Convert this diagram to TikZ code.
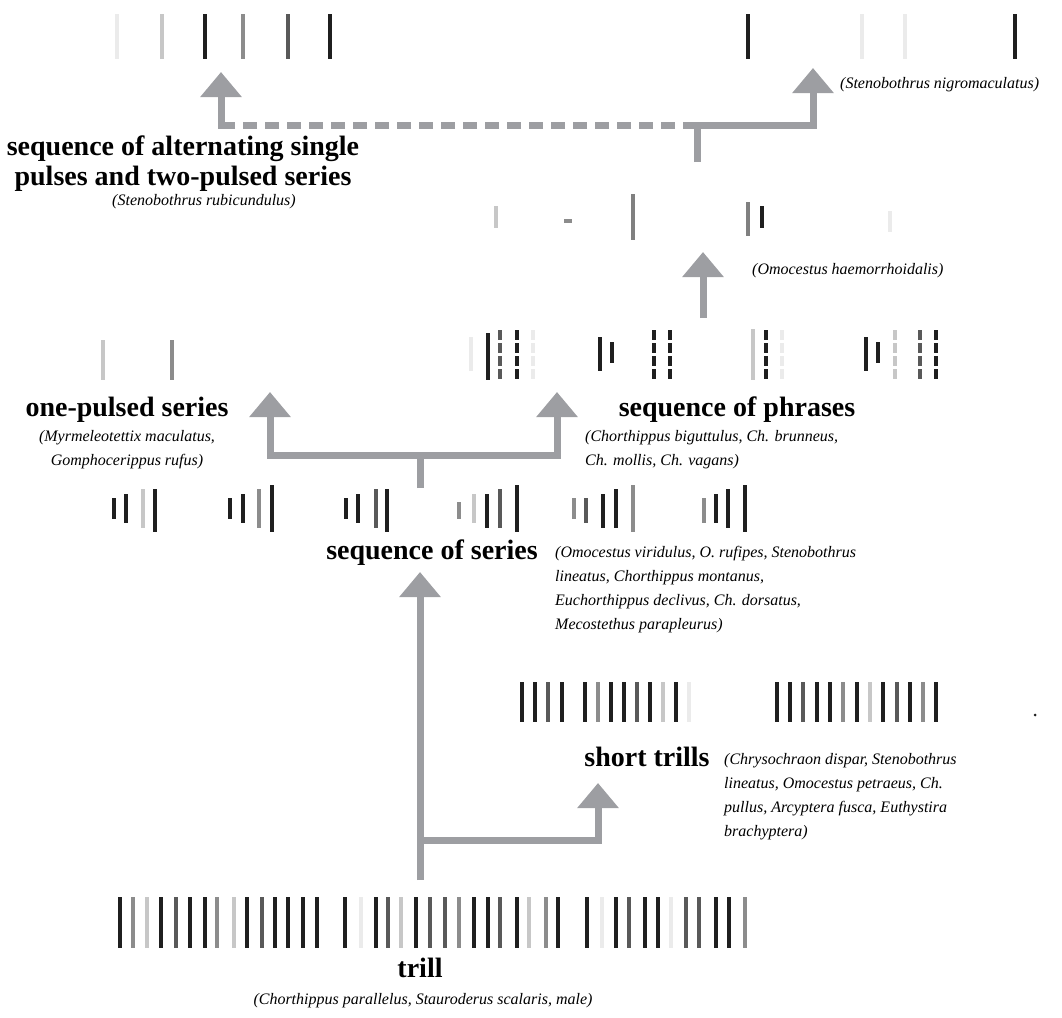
\documentclass[tikz,border=0pt]{standalone}
\usepackage{fontspec}
\setmainfont{Liberation Serif}
\usetikzlibrary{arrows.meta}
\colorlet{kk}{black!88}
\colorlet{dk}{black!65}
\colorlet{md}{black!45}
\colorlet{lt}{black!22}
\colorlet{vl}{black!8}
\definecolor{arrowgray}{HTML}{9D9EA2}

\begin{document}
\begin{tikzpicture}[x=1pt,y=-1pt,
    bar/.style={line width=4pt},
    dbar/.style={line width=4pt,dash pattern=on 10pt off 3pt},
    flow/.style={draw=arrowgray,line width=7pt,-{Triangle[width=40pt,length=25pt]}},
    dashlink/.style={draw=arrowgray,line width=7pt,dash pattern=on 14pt off 8pt},
    songtitle/.style={font=\fontsize{28}{30}\selectfont\bfseries,inner sep=0pt},
    songnote/.style={font=\fontsize{16}{24}\selectfont\itshape,inner sep=0pt}]
    \useasboundingbox (0,0) rectangle (1062,1017);
    % pulse patterns
    \foreach \x/\c in {117/vl,162/lt,205/kk,243/md,288/dk,330/kk,748/kk,862/vl,905/vl,1015/kk}
      \draw[bar,draw=\c] (\x,14) -- (\x,59);
    \foreach \x/\c/\a/\b in {496/lt/206/228,633/black!50/194/240,748/black!50/202/236,
        762/kk/206/228,890/vl/211/232}
      \draw[bar,draw=\c] (\x,\a) -- (\x,\b);
    \draw[bar,draw=md] (564,221) -- (572,221);
    \foreach \x/\c in {103/lt,172/md}
      \draw[bar,draw=\c] (\x,340) -- (\x,380);
    \foreach \x/\c/\a/\b in {471/vl/337/371,488/kk/333/380,600/kk/337/371,612/kk/342/363,
        753/lt/329/380,866/kk/337/371,878/kk/342/363}
      \draw[bar,draw=\c] (\x,\a) -- (\x,\b);
    \foreach \x/\c in {500/dk,517/kk,533/vl,654/kk,670/kk,766/kk,782/vl,895/lt,920/dk,936/kk}
      \draw[dbar,draw=\c] (\x,330) -- (\x,380);
    \foreach \x/\c/\a/\b in {113.5/kk/498/519,126/kk/494/523,142.5/lt/489/528,155/kk/489/532,
        229.5/kk/498/519,243/kk/494/523,258.5/md/489/528,272/kk/485/532,
        345.6/kk/498/519,358/kk/494/523,375.5/dk/489/528,387/kk/489/532,
        458.6/md/502/519,474/lt/494/523,487/kk/494/528,499.6/dk/489/528,516.6/kk/485/532,
        574/md/498/519,586/dk/498/523,603/kk/494/528,615.7/kk/489/528,632.7/md/485/532,
        703.7/md/498/523,715.7/kk/494/523,728/kk/489/528,745/kk/485/532}
      \draw[bar,draw=\c] (\x,\a) -- (\x,\b);
    \foreach \x/\c in {522/kk,535/kk,548/dk,562/kk,585/kk,598/md,611/kk,624/kk,637/dk,650/kk,
        663/lt,676/kk,689/vl,777/kk,790/kk,803/dk,817/kk,830/kk,843/md,857/kk,870/lt,
        883/kk,897/dk,910/kk,923/md,936/kk}
      \draw[bar,draw=\c] (\x,682) -- (\x,722);
    \fill[kk] (1035,715) circle (1.5pt);
    \foreach \x/\c in {120/kk,133/md,147/lt,161/kk,176/dk,190/kk,204.6/kk,217/md,234/lt,
        246.7/kk,262/dk,275/kk,288/kk,303/kk,317/kk,
        345/kk,361/vl,376/kk,387.5/dk,401/lt,416/kk,429.6/dk,445/dk,459/md,474/kk,488/kk,
        500/dk,517/kk,529/lt,545.6/md,558/kk,
        586.5/kk,602/vl,616/kk,628.6/dk,644.7/kk,658/kk,670.7/vl,686/dk,699/dk,715.5/kk,
        729/kk,744.6/md}
      \draw[bar,draw=\c] (\x,897) -- (\x,948);
    % labels
    \node[songtitle,align=center,anchor=north] (altsingle) at (183,136)
      {sequence of alternating single\\pulses and two-pulsed series};
    \node[songnote,anchor=base] (altcap) at (204,205) {(Stenobothrus rubicundulus)};
    \node[songnote,anchor=base west] (topcap) at (840,88) {(Stenobothrus nigromaculatus)};
    \node[songnote,anchor=base west] (midcap) at (752,274) {(Omocestus haemorrhoidalis)};
    \node[songtitle,anchor=base] (onepulse) at (127,416.5) {one-pulsed series};
    \node[songnote,align=center,anchor=north] (onecap) at (127,430)
      {(Myrmeleotettix maculatus,\\Gomphocerippus rufus)};
    \node[songtitle,anchor=base] (phrases) at (737,416.5) {sequence of phrases};
    \node[songnote,align=left,anchor=north west] (phrcap) at (585,430)
      {(Chorthippus biguttulus, Ch. brunneus,\\Ch. mollis, Ch. vagans)};
    \node[songtitle,anchor=base] (series) at (432,559.5) {sequence of series};
    \node[songnote,align=left,anchor=north west] (sercap) at (555,546)
      {(Omocestus viridulus, O. rufipes, Stenobothrus\\
       lineatus, Chorthippus montanus,\\
       Euchorthippus declivus, Ch. dorsatus,\\
       Mecostethus parapleurus)};
    \node[songtitle,anchor=base] (shorttrills) at (647,766.5) {short trills};
    \node[songnote,align=left,anchor=north west] (shortcap) at (724,753)
      {(Chrysochraon dispar, Stenobothrus\\
       lineatus, Omocestus petraeus, Ch.\\
       pullus, Arcyptera fusca, Euthystira\\
       brachyptera)};
    \node[songtitle,anchor=base] (trill) at (420,977.5) {trill};
    \node[songnote,anchor=base] (trillcap) at (423,1004) {(Chorthippus parallelus, Stauroderus scalaris, male)};
    % connectors
    \coordinate (trunk) at (420,880);
    \coordinate (fork) at (420,840);
    \coordinate (seriestip) at (420,572);
    \coordinate (shorttip) at (598,783);
    \coordinate (split) at (420,488);
    \coordinate (branch) at (420,455);
    \coordinate (onetip) at (270,392);
    \coordinate (phrtip) at (557,392);
    \coordinate (phrstem) at (703,318);
    \coordinate (midtip) at (703,252);
    \coordinate (topstem) at (697,162);
    \coordinate (topjoin) at (697,125);
    \coordinate (righttip) at (813,68);
    \coordinate (leftcorner) at (221,125);
    \coordinate (lefttip) at (221,72);
    \draw[flow] (trunk) -- (seriestip);
    \draw[flow] (fork) -| (shorttip);
    \draw[flow] (split) -- (branch) -| (phrtip);
    \draw[flow] (branch) -| (onetip);
    \draw[flow] (phrstem) -- (midtip);
    \draw[flow] (topstem) -- (topjoin) -| (righttip);
    \draw[dashlink] (topjoin) -- (leftcorner);
    \draw[flow] ([yshift=-3.5pt]leftcorner) -- (lefttip);
\end{tikzpicture}
\end{document}
